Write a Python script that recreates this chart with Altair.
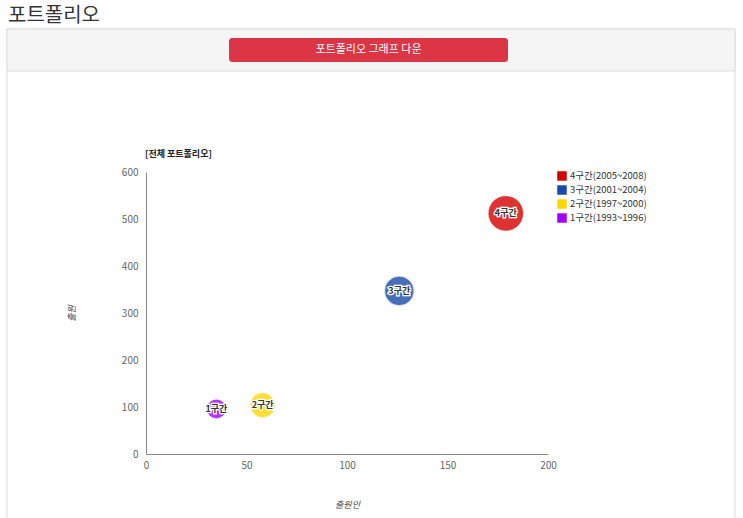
import altair as alt
import pandas as pd

# ---- data ----
segments = ["4구간", "3구간", "2구간", "1구간"]
legend_labels = ["4구간(2005~2008)", "3구간(2001~2004)", "2구간(1997~2000)", "1구간(1993~1996)"]
applicants = [179, 126, 58, 35]      # 출원인
applications = [512, 347, 104, 96]   # 출원
bubble_size = [1250, 860, 620, 380]
colors = ["#d40000", "#1a4aa8", "#ffd700", "#a000ff"]

df = pd.DataFrame({
    "구간": legend_labels,
    "label": segments,
    "출원인": applicants,
    "출원": applications,
    "size": bubble_size,
})

FONT = "Noto Sans CJK KR"
W, H = 402, 282
L, T = 146, 172

one = pd.DataFrame({"a": [0]})
base1 = alt.Chart(one)

# ---- page decorations ----
page_title = base1.mark_text(align="left", baseline="middle", fontSize=20, font=FONT, color="#333").encode(
    x=alt.value(8 - L), y=alt.value(16 - T), text=alt.value("포트폴리오"))
panel = base1.mark_rect(fill="#ffffff", stroke="#dddddd", strokeWidth=1).encode(
    x=alt.value(7 - L), x2=alt.value(735 - L), y=alt.value(29 - T), y2=alt.value(540 - T))
header = base1.mark_rect(fill="#f5f5f5", stroke="#dddddd", strokeWidth=1).encode(
    x=alt.value(7 - L), x2=alt.value(735 - L), y=alt.value(29 - T), y2=alt.value(71 - T))
button = base1.mark_rect(fill="#dc3545", cornerRadius=3).encode(
    x=alt.value(229 - L), x2=alt.value(508 - L), y=alt.value(38 - T), y2=alt.value(62 - T))
button_text = base1.mark_text(align="center", baseline="middle", fontSize=11, font=FONT, color="#ffffff").encode(
    x=alt.value((229 + 508) / 2 - L), y=alt.value(50 - T), text=alt.value("포트폴리오 그래프 다운"))
chart_title = base1.mark_text(align="left", baseline="middle", fontSize=9, fontWeight="bold", font=FONT, color="#222").encode(
    x=alt.value(145 - L), y=alt.value(154 - T), text=alt.value("[전체 포트폴리오]"))

# ---- bubbles ----
color_scale = alt.Scale(domain=legend_labels, range=colors)
xs = alt.Scale(domain=[0, 200], nice=False, zero=True)
ys = alt.Scale(domain=[0, 600], nice=False, zero=True)

base = alt.Chart(df)
bubbles = base.mark_circle(fillOpacity=0.8, stroke="#ffffff", strokeWidth=1, strokeOpacity=0.6).encode(
    x=alt.X("출원인:Q", scale=xs, axis=alt.Axis(
        title="출원인", values=[0, 50, 100, 150, 200], grid=False, ticks=False, domainColor="#888",
        labelColor="#666", labelFontSize=10, labelFont=FONT, labelPadding=6, zindex=5,
        labelFlush=False, labelOverlap=False,
        titleFont=FONT, titleFontSize=9, titleFontStyle="italic", titleFontWeight="normal",
        titleColor="#444", titlePadding=30)),
    y=alt.Y("출원:Q", scale=ys, axis=alt.Axis(
        title="출원", values=[0, 100, 200, 300, 400, 500, 600], grid=False, ticks=False, domainColor="#888",
        labelColor="#666", labelFontSize=10, labelFont=FONT, labelPadding=8, zindex=5,
        labelFlush=False, labelOverlap=False,
        titleFont=FONT, titleFontSize=9, titleFontStyle="italic", titleFontWeight="normal",
        titleColor="#444", titlePadding=45)),
    size=alt.Size("size:Q", scale=alt.Scale(domain=[0, 1300], range=[0, 1300], zero=True), legend=None),
    color=alt.Color("구간:N", scale=color_scale, sort=legend_labels, legend=alt.Legend(
        title=None, orient="none", legendX=557 - L, legendY=171 - T, symbolType="square",
        symbolSize=90, symbolOpacity=1, symbolStrokeWidth=0, labelFont=FONT, labelFontSize=9.5,
        labelColor="#333", rowPadding=4, labelOffset=3, zindex=5)),
)
halo = base.mark_text(fontSize=9, font=FONT, fontWeight="bold", stroke="#ffffff", strokeWidth=2.5,
                      color="#ffffff").encode(x=alt.X("출원인:Q", scale=xs), y=alt.Y("출원:Q", scale=ys), text="label:N")
labels = base.mark_text(fontSize=9, font=FONT, fontWeight="bold", color="#333").encode(
    x=alt.X("출원인:Q", scale=xs), y=alt.Y("출원:Q", scale=ys), text="label:N")

chart = alt.layer(panel, header, button, button_text, page_title, chart_title, bubbles, halo, labels).properties(
    width=W, height=H,
    autosize=alt.AutoSizeParams(type="none"),
    padding={"left": L, "top": T, "right": 743 - L - W, "bottom": 518 - T - H},
).configure_view(stroke=None).configure(background="#ffffff")

chart.save("out.html", embed_options={"renderer": "svg", "actions": False})
